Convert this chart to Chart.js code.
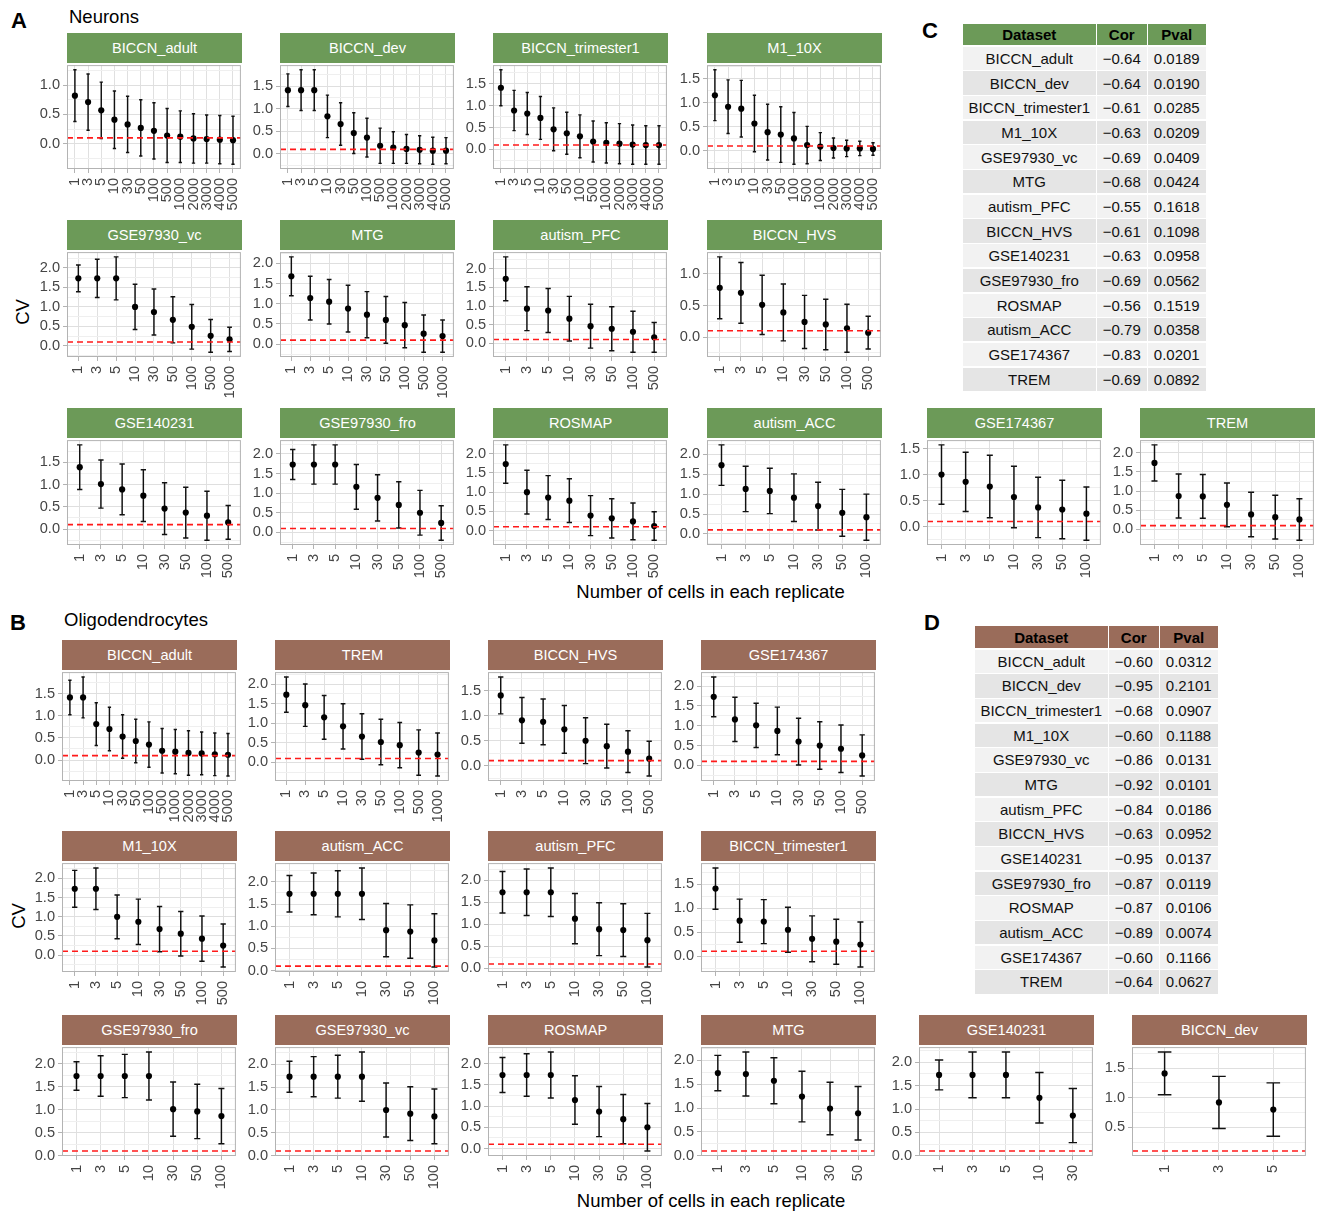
<!DOCTYPE html>
<html>
<head>
<meta charset="utf-8">
<script src="https://cdn.jsdelivr.net/npm/chart.js@4.4.1/dist/chart.umd.min.js"></script>
<style>
  html, body { margin: 0; padding: 0; background: #fff; }
  body { position: relative; width: 1325px; height: 1211px; overflow: hidden;
         font-family: 'Liberation Sans', Arial, Helvetica, sans-serif; }
  .txt { position: absolute; white-space: nowrap; line-height: 1; color: #000; }
  .tag { font-weight: bold; font-size: 22px; }
  .group { font-size: 18.5px; }
  .axis-title { font-size: 18.5px; }
  .strip { position: absolute; color: #fff; font-size: 14.6px; display: flex;
           align-items: center; justify-content: center; white-space: nowrap; }
  .cell { position: absolute; display: flex; align-items: center; justify-content: center;
          font-size: 15px; color: #111; white-space: nowrap; }
  .cell.head { font-weight: bold; color: #000; }
  canvas { position: absolute; }
</style>
</head>
<body>
<script>
// ---------------------------------------------------------------
// Data: CV (mean) and its SD by number of cells per replicate
// ---------------------------------------------------------------
const CELL_COUNTS = ['1', '3', '5', '10', '30', '50', '100', '500', '1000', '2000', '3000', '4000', '5000'];
const CV_THRESHOLD = 0.1;

// Neurons
const neuBICCNadultCV      = [0.82, 0.71, 0.57, 0.41, 0.33, 0.27, 0.22, 0.14, 0.12, 0.09, 0.08, 0.07, 0.06];
const neuBICCNadultSD      = [0.44, 0.48, 0.48, 0.49, 0.48, 0.48, 0.48, 0.46, 0.44, 0.42, 0.41, 0.41, 0.41];
const neuBICCNdevCV        = [1.41, 1.41, 1.41, 0.83, 0.66, 0.46, 0.36, 0.18, 0.14, 0.11, 0.09, 0.07, 0.07];
const neuBICCNdevSD        = [0.36, 0.45, 0.45, 0.47, 0.47, 0.45, 0.43, 0.39, 0.35, 0.32, 0.31, 0.30, 0.29];
const neuBICCNtri1CV       = [1.41, 0.89, 0.82, 0.72, 0.46, 0.37, 0.30, 0.18, 0.15, 0.13, 0.11, 0.10, 0.10];
const neuBICCNtri1SD       = [0.41, 0.46, 0.48, 0.49, 0.49, 0.48, 0.49, 0.47, 0.46, 0.46, 0.45, 0.44, 0.44];
const neuM110XCV           = [1.16, 0.92, 0.88, 0.57, 0.39, 0.34, 0.26, 0.12, 0.09, 0.06, 0.05, 0.05, 0.04];
const neuM110XSD           = [0.53, 0.56, 0.59, 0.59, 0.58, 0.58, 0.54, 0.39, 0.29, 0.21, 0.17, 0.15, 0.13];
const neuGSE97930vcCV      = [1.73, 1.73, 1.73, 1.00, 0.87, 0.67, 0.49, 0.26, 0.17];
const neuGSE97930vcSD      = [0.34, 0.49, 0.55, 0.58, 0.59, 0.59, 0.57, 0.42, 0.31];
const neuMTGCV             = [1.68, 1.14, 1.05, 0.88, 0.73, 0.60, 0.47, 0.26, 0.20];
const neuMTGSD             = [0.48, 0.54, 0.55, 0.58, 0.57, 0.58, 0.56, 0.46, 0.40];
const neuAutismPFCCV       = [1.73, 0.93, 0.88, 0.66, 0.46, 0.39, 0.31, 0.16];
const neuAutismPFCSD       = [0.59, 0.59, 0.59, 0.60, 0.59, 0.59, 0.55, 0.40];
const neuBICCNhvsCV        = [0.78, 0.70, 0.51, 0.39, 0.24, 0.20, 0.14, 0.07];
const neuBICCNhvsSD        = [0.49, 0.48, 0.47, 0.45, 0.42, 0.40, 0.38, 0.26];
const neuGSE140231CV       = [1.39, 1.01, 0.89, 0.75, 0.46, 0.37, 0.30, 0.15];
const neuGSE140231SD       = [0.50, 0.54, 0.57, 0.58, 0.58, 0.57, 0.55, 0.38];
const neuGSE97930froCV     = [1.73, 1.73, 1.73, 1.16, 0.88, 0.70, 0.50, 0.24];
const neuGSE97930froSD     = [0.38, 0.50, 0.50, 0.57, 0.59, 0.59, 0.57, 0.44];
const neuROSMAPCV          = [1.73, 1.00, 0.86, 0.78, 0.39, 0.32, 0.24, 0.12];
const neuROSMAPSD          = [0.50, 0.57, 0.57, 0.57, 0.52, 0.51, 0.48, 0.37];
const neuAutismACCCV       = [1.73, 1.13, 1.08, 0.91, 0.70, 0.53, 0.42];
const neuAutismACCSD       = [0.51, 0.57, 0.57, 0.60, 0.60, 0.59, 0.58];
const neuGSE174367CV       = [1.00, 0.86, 0.77, 0.57, 0.37, 0.33, 0.25];
const neuGSE174367SD       = [0.57, 0.57, 0.60, 0.59, 0.58, 0.56, 0.51];
const neuTREMCV            = [1.73, 0.87, 0.86, 0.64, 0.39, 0.32, 0.26];
const neuTREMSD            = [0.47, 0.57, 0.57, 0.57, 0.58, 0.57, 0.54];

// Oligodendrocytes
const oliBICCNadultCV      = [1.41, 1.41, 0.81, 0.70, 0.53, 0.43, 0.35, 0.21, 0.19, 0.16, 0.15, 0.13, 0.12];
const oliBICCNadultSD      = [0.39, 0.46, 0.48, 0.49, 0.49, 0.49, 0.51, 0.50, 0.50, 0.50, 0.48, 0.48, 0.48];
const oliTREMCV            = [1.73, 1.46, 1.15, 0.92, 0.66, 0.52, 0.44, 0.25, 0.20];
const oliTREMSD            = [0.45, 0.54, 0.56, 0.58, 0.58, 0.58, 0.58, 0.58, 0.55];
const oliBICCNhvsCV        = [1.41, 0.91, 0.88, 0.73, 0.50, 0.39, 0.28, 0.14];
const oliBICCNhvsSD        = [0.37, 0.46, 0.46, 0.48, 0.46, 0.44, 0.42, 0.35];
const oliGSE174367CV       = [1.73, 1.16, 1.01, 0.87, 0.60, 0.50, 0.42, 0.25];
const oliGSE174367SD       = [0.50, 0.56, 0.56, 0.60, 0.59, 0.60, 0.60, 0.52];
const oliM110XCV           = [1.73, 1.73, 1.00, 0.87, 0.68, 0.56, 0.43, 0.25];
const oliM110XSD           = [0.48, 0.54, 0.57, 0.59, 0.59, 0.58, 0.59, 0.56];
const oliAutismACCCV       = [1.73, 1.73, 1.73, 1.73, 0.91, 0.88, 0.68];
const oliAutismACCSD       = [0.41, 0.47, 0.52, 0.58, 0.60, 0.60, 0.60];
const oliAutismPFCCV       = [1.73, 1.73, 1.73, 1.13, 0.89, 0.87, 0.64];
const oliAutismPFCSD       = [0.47, 0.53, 0.55, 0.57, 0.60, 0.60, 0.61];
const oliBICCNtri1CV       = [1.41, 0.74, 0.72, 0.55, 0.36, 0.30, 0.24];
const oliBICCNtri1SD       = [0.43, 0.45, 0.46, 0.47, 0.48, 0.47, 0.47];
const oliGSE97930froCV     = [1.73, 1.73, 1.73, 1.73, 1.01, 0.96, 0.86];
const oliGSE97930froSD     = [0.31, 0.44, 0.47, 0.52, 0.59, 0.59, 0.60];
const oliGSE97930vcCV      = [1.73, 1.73, 1.73, 1.73, 1.00, 0.92, 0.86];
const oliGSE97930vcSD      = [0.34, 0.44, 0.47, 0.54, 0.59, 0.59, 0.60];
const oliROSMAPCV          = [1.73, 1.73, 1.73, 1.14, 0.87, 0.69, 0.50];
const oliROSMAPSD          = [0.41, 0.50, 0.54, 0.57, 0.59, 0.58, 0.56];
const oliMTGCV             = [1.73, 1.71, 1.57, 1.24, 0.99, 0.89];
const oliMTGSD             = [0.37, 0.46, 0.48, 0.53, 0.55, 0.56];
const oliGSE140231CV       = [1.73, 1.73, 1.73, 1.24, 0.86];
const oliGSE140231SD       = [0.32, 0.49, 0.49, 0.54, 0.58];
const oliBICCNdevCV        = [1.41, 0.92, 0.80];
const oliBICCNdevSD        = [0.36, 0.44, 0.45];

// Correlation tables (same dataset order in both)
const tableDatasets = ['BICCN_adult', 'BICCN_dev', 'BICCN_trimester1', 'M1_10X', 'GSE97930_vc', 'MTG',
  'autism_PFC', 'BICCN_HVS', 'GSE140231', 'GSE97930_fro', 'ROSMAP', 'autism_ACC', 'GSE174367', 'TREM'];
const neuronCor  = [-0.64, -0.64, -0.61, -0.63, -0.69, -0.68, -0.55, -0.61, -0.63, -0.69, -0.56, -0.79, -0.83, -0.69];
const neuronPval = [0.0189, 0.0190, 0.0285, 0.0209, 0.0409, 0.0424, 0.1618, 0.1098, 0.0958, 0.0562, 0.1519, 0.0358, 0.0201, 0.0892];
const oligoCor   = [-0.60, -0.95, -0.68, -0.60, -0.86, -0.92, -0.84, -0.63, -0.95, -0.87, -0.87, -0.89, -0.60, -0.64];
const oligoPval  = [0.0312, 0.2101, 0.0907, 0.1188, 0.0131, 0.0101, 0.0186, 0.0952, 0.0137, 0.0119, 0.0106, 0.0074, 0.1166, 0.0627];

// Facet order per cell type
const neuronPanels = [
  ['BICCN_adult', neuBICCNadultCV, neuBICCNadultSD],
  ['BICCN_dev', neuBICCNdevCV, neuBICCNdevSD],
  ['BICCN_trimester1', neuBICCNtri1CV, neuBICCNtri1SD],
  ['M1_10X', neuM110XCV, neuM110XSD],
  ['GSE97930_vc', neuGSE97930vcCV, neuGSE97930vcSD],
  ['MTG', neuMTGCV, neuMTGSD],
  ['autism_PFC', neuAutismPFCCV, neuAutismPFCSD],
  ['BICCN_HVS', neuBICCNhvsCV, neuBICCNhvsSD],
  ['GSE140231', neuGSE140231CV, neuGSE140231SD],
  ['GSE97930_fro', neuGSE97930froCV, neuGSE97930froSD],
  ['ROSMAP', neuROSMAPCV, neuROSMAPSD],
  ['autism_ACC', neuAutismACCCV, neuAutismACCSD],
  ['GSE174367', neuGSE174367CV, neuGSE174367SD],
  ['TREM', neuTREMCV, neuTREMSD]
];
const oligoPanels = [
  ['BICCN_adult', oliBICCNadultCV, oliBICCNadultSD],
  ['TREM', oliTREMCV, oliTREMSD],
  ['BICCN_HVS', oliBICCNhvsCV, oliBICCNhvsSD],
  ['GSE174367', oliGSE174367CV, oliGSE174367SD],
  ['M1_10X', oliM110XCV, oliM110XSD],
  ['autism_ACC', oliAutismACCCV, oliAutismACCSD],
  ['autism_PFC', oliAutismPFCCV, oliAutismPFCSD],
  ['BICCN_trimester1', oliBICCNtri1CV, oliBICCNtri1SD],
  ['GSE97930_fro', oliGSE97930froCV, oliGSE97930froSD],
  ['GSE97930_vc', oliGSE97930vcCV, oliGSE97930vcSD],
  ['ROSMAP', oliROSMAPCV, oliROSMAPSD],
  ['MTG', oliMTGCV, oliMTGSD],
  ['GSE140231', oliGSE140231CV, oliGSE140231SD],
  ['BICCN_dev', oliBICCNdevCV, oliBICCNdevSD]
];

// ---------------------------------------------------------------
// Layout and style
// ---------------------------------------------------------------
const FONT = "'Liberation Sans', Arial, Helvetica, sans-serif";
const GREEN = '#6c9a58';
const BROWN = '#9a6c5a';
const PANEL_W = 175;
const AXIS_W = 40;
const LABEL_H = 52;
const PAD_T = 1, PAD_R = 2;

const ROWS_A = [{ top: 63, h: 106 }, { top: 250, h: 107 }, { top: 438, h: 107 }];
const COLS_A = [67, 280, 493, 707, 927, 1140];
const ROWS_B = [{ top: 670, h: 111 }, { top: 861, h: 111 }, { top: 1045, h: 111 }];
const COLS_B = [62, 275, 488, 701, 919, 1132];

Chart.defaults.font.family = FONT;

function isMajor(v) { return Math.abs(v * 2 - Math.round(v * 2)) < 1e-9; }

// ggplot-like limits: data + error bars + threshold, expanded by 5%
function yLimits(cv, sd) {
  let lo = CV_THRESHOLD, hi = CV_THRESHOLD;
  cv.forEach((v, i) => { lo = Math.min(lo, v - sd[i]); hi = Math.max(hi, v + sd[i]); });
  const pad = (hi - lo) * 0.05;
  return [lo - pad, hi + pad];
}

// Error bars, threshold line and panel border
const panelDecor = {
  id: 'panelDecor',
  beforeDatasetsDraw(chart) {
    const ds = chart.data.datasets[0];
    const xs = chart.scales.x, ys = chart.scales.y;
    const ctx = chart.ctx;
    ctx.save();
    ctx.strokeStyle = '#111';
    ctx.lineWidth = 1.45;
    ds.data.forEach((p, i) => {
      const s = ds.errSd[i];
      const x = xs.getPixelForValue(p.x);
      const xl = xs.getPixelForValue(p.x - 0.125), xr = xs.getPixelForValue(p.x + 0.125);
      const yt = ys.getPixelForValue(p.y + s), yb = ys.getPixelForValue(p.y - s);
      ctx.beginPath();
      ctx.moveTo(x, yt); ctx.lineTo(x, yb);
      ctx.moveTo(xl, yt); ctx.lineTo(xr, yt);
      ctx.moveTo(xl, yb); ctx.lineTo(xr, yb);
      ctx.stroke();
    });
    ctx.restore();
  },
  afterDatasetsDraw(chart) {
    const a = chart.chartArea, ctx = chart.ctx;
    const y = chart.scales.y.getPixelForValue(CV_THRESHOLD);
    ctx.save();
    ctx.strokeStyle = '#ff1a1a';
    ctx.lineWidth = 1.6;
    ctx.setLineDash([6, 4]);
    ctx.beginPath();
    ctx.moveTo(a.left, y); ctx.lineTo(a.right, y);
    ctx.stroke();
    ctx.restore();
  },
  afterDraw(chart) {
    const a = chart.chartArea, ctx = chart.ctx;
    ctx.save();
    ctx.strokeStyle = '#b3b3b3';
    ctx.lineWidth = 1;
    ctx.strokeRect(a.left + 0.5, a.top + 0.5, a.right - a.left - 1, a.bottom - a.top - 1);
    ctx.restore();
  }
};

function addText(cls, text, left, top, extraStyle) {
  const d = document.createElement('div');
  d.className = 'txt ' + cls;
  d.textContent = text;
  d.style.left = left + 'px';
  d.style.top = top + 'px';
  if (extraStyle) Object.assign(d.style, extraStyle);
  document.body.appendChild(d);
  return d;
}

function drawPanel(title, cv, sd, px, plotTop, plotH, stripColor) {
  const n = cv.length;
  const [ymin, ymax] = yLimits(cv, sd);

  const strip = document.createElement('div');
  strip.className = 'strip';
  strip.textContent = title;
  Object.assign(strip.style, {
    left: px + 'px', top: (plotTop - 30) + 'px', width: PANEL_W + 'px', height: '30px', background: stripColor
  });
  document.body.appendChild(strip);

  const w = AXIS_W + PANEL_W + PAD_R, h = PAD_T + plotH + LABEL_H;
  const cvs = document.createElement('canvas');
  cvs.width = w; cvs.height = h;
  Object.assign(cvs.style, { left: (px - AXIS_W) + 'px', top: (plotTop - PAD_T) + 'px', width: w + 'px', height: h + 'px' });
  document.body.appendChild(cvs);

  const tickFont = { family: FONT, size: 14.6 };
  new Chart(cvs, {
    type: 'scatter',
    data: {
      datasets: [{
        data: cv.map((v, i) => ({ x: i + 1, y: v })),
        errSd: sd,
        pointRadius: 3.1,
        pointHoverRadius: 3.1,
        backgroundColor: '#000',
        borderWidth: 0
      }]
    },
    options: {
      responsive: false,
      animation: false,
      devicePixelRatio: 1,
      events: [],
      layout: { padding: { top: PAD_T, right: PAD_R, left: 0, bottom: 0 } },
      plugins: { legend: { display: false }, tooltip: { enabled: false } },
      scales: {
        x: {
          type: 'linear',
          min: 0.4,
          max: n + 0.6,
          afterBuildTicks: s => { s.ticks = cv.map((_, i) => ({ value: i + 1 })); },
          afterFit: s => { s.height = LABEL_H; s.paddingLeft = 0; s.paddingRight = 0; },
          ticks: {
            autoSkip: false, minRotation: 90, maxRotation: 90, padding: 5,
            color: '#454545', font: tickFont,
            callback: v => CELL_COUNTS[Math.round(v) - 1]
          },
          grid: { color: '#e0e0e0', lineWidth: 1, tickColor: '#b3b3b3', tickLength: 4 },
          border: { display: false }
        },
        y: {
          type: 'linear',
          min: ymin,
          max: ymax,
          afterBuildTicks: s => {
            const t = [];
            for (let k = Math.ceil(ymin / 0.25); k * 0.25 <= ymax; k++) t.push({ value: k * 0.25 });
            s.ticks = t;
          },
          afterFit: s => { s.width = AXIS_W; s.paddingTop = 0; s.paddingBottom = 0; },
          ticks: {
            autoSkip: false, padding: 3, color: '#454545', font: tickFont,
            callback: v => (isMajor(v) ? (Math.abs(v) < 1e-9 ? 0 : v).toFixed(1) : '')
          },
          grid: {
            color: c => (isMajor(c.tick.value) ? '#dfdfdf' : '#efefef'),
            lineWidth: 1,
            tickColor: c => (isMajor(c.tick.value) ? '#b3b3b3' : 'rgba(0,0,0,0)'),
            tickLength: 4
          },
          border: { display: false }
        }
      }
    },
    plugins: [panelDecor]
  });
}

function drawGroup(panels, rows, cols, color) {
  panels.forEach((p, i) => {
    let r, c;
    if (i < 4) { r = 0; c = i; } else if (i < 8) { r = 1; c = i - 4; } else { r = 2; c = i - 8; }
    drawPanel(p[0], p[1], p[2], cols[c], rows[r].top, rows[r].h, color);
  });
}

function fmtCor(v) { return (v < 0 ? '\u2212' : '') + Math.abs(v).toFixed(2); }

function drawTable(left, top, headColor, cor, pval) {
  const colW = [134, 51, 59];
  const headH = 23.3, rowH = 24.67, gap = 1.5;
  const rows = [['Dataset', 'Cor', 'Pval']].concat(
    tableDatasets.map((d, i) => [d, fmtCor(cor[i]), pval[i].toFixed(4)]));
  rows.forEach((row, r) => {
    const y = r === 0 ? top : top + headH + (r - 1) * rowH;
    const hgt = r === 0 ? headH : rowH;
    let x = left;
    row.forEach((txt, c) => {
      const d = document.createElement('div');
      d.className = 'cell' + (r === 0 ? ' head' : '');
      d.textContent = txt;
      Object.assign(d.style, {
        left: x + 'px', top: y + 'px', width: (colW[c] - gap) + 'px', height: (hgt - gap) + 'px',
        background: r === 0 ? headColor : (r % 2 === 1 ? '#f2f2f2' : '#e5e5e5')
      });
      document.body.appendChild(d);
      x += colW[c];
    });
  });
}

// Panel tags and group titles
addText('tag', 'A', 11, 9.5);
addText('group', 'Neurons', 69, 7.5);
addText('tag', 'B', 10, 611.5);
addText('group', 'Oligodendrocytes', 64, 610.5);
addText('tag', 'C', 922, 19.5);
addText('tag', 'D', 924, 611.5);

// Axis titles
addText('axis-title', 'CV', 22.5, 312, { transform: 'translate(-50%, -50%) rotate(-90deg)' });
addText('axis-title', 'CV', 18.5, 916, { transform: 'translate(-50%, -50%) rotate(-90deg)' });
addText('axis-title', 'Number of cells in each replicate', 710.5, 582.5, { transform: 'translateX(-50%)' });
addText('axis-title', 'Number of cells in each replicate', 711, 1192, { transform: 'translateX(-50%)' });

drawGroup(neuronPanels, ROWS_A, COLS_A, GREEN);
drawGroup(oligoPanels, ROWS_B, COLS_B, BROWN);

drawTable(963, 23.5, GREEN, neuronCor, neuronPval);
drawTable(975, 626.4, BROWN, oligoCor, oligoPval);
</script>
</body>
</html>
